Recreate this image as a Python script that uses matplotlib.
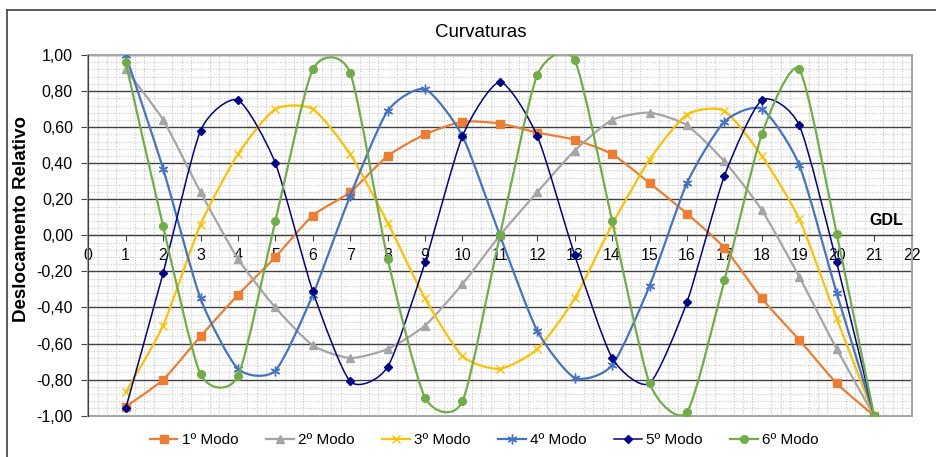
import numpy as np
import matplotlib.pyplot as plt
from matplotlib.path import Path
from matplotlib.patches import PathPatch, Rectangle
from matplotlib.lines import Line2D

plt.rcParams['font.family'] = ['Liberation Sans', 'DejaVu Sans']

gdl = np.arange(1, 22)

modo1 = [-0.95, -0.80, -0.56, -0.33, -0.12, 0.11, 0.24, 0.44, 0.56, 0.63, 0.62,
         0.57, 0.53, 0.45, 0.29, 0.12, -0.07, -0.35, -0.58, -0.82, -1.00]
modo2 = [0.92, 0.64, 0.24, -0.13, -0.40, -0.61, -0.68, -0.63, -0.50, -0.27, 0.00,
         0.24, 0.47, 0.64, 0.68, 0.61, 0.41, 0.14, -0.23, -0.63, -1.00]
modo3 = [-0.87, -0.50, 0.06, 0.45, 0.70, 0.70, 0.45, 0.07, -0.35, -0.67, -0.74,
         -0.63, -0.35, 0.06, 0.42, 0.67, 0.69, 0.44, 0.09, -0.46, -1.00]
modo4 = [1.00, 0.37, -0.35, -0.74, -0.75, -0.33, 0.22, 0.69, 0.81, 0.55, 0.00,
         -0.53, -0.79, -0.72, -0.28, 0.29, 0.63, 0.70, 0.39, -0.32, -1.00]
modo5 = [-0.96, -0.21, 0.58, 0.75, 0.40, -0.31, -0.81, -0.73, -0.15, 0.55, 0.85,
         0.55, -0.11, -0.68, -0.82, -0.37, 0.33, 0.75, 0.61, -0.15, -1.00]
modo6 = [0.96, 0.05, -0.77, -0.78, 0.08, 0.92, 0.90, -0.13, -0.90, -0.92, 0.00,
         0.89, 0.97, 0.08, -0.82, -0.98, -0.25, 0.56, 0.92, 0.01, -1.00]

series = [modo1, modo2, modo3, modo4, modo5, modo6]
labels = ['1º Modo', '2º Modo', '3º Modo', '4º Modo', '5º Modo', '6º Modo']
colors = ['#ED7D31', '#A5A5A5', '#FFC000', '#4472C4', '#000088', '#70AD47']
markers = ['s', '^', 'x', (6, 2, 0), 'D', 'o']
msizes = [5.5, 6, 6, 7, 4.5, 5.5]
lwidths = [1.6, 1.6, 1.6, 1.6, 1.1, 1.6]


def smooth_path(x, y, t=0.11):
    # Bezier segments through every point, like a smoothed spreadsheet line
    pts = np.column_stack([x, y]).astype(float)
    ext = np.vstack([pts[0], pts, pts[-1]])
    verts = [pts[0]]
    codes = [Path.MOVETO]
    for i in range(len(pts) - 1):
        p0, p1, p2, p3 = ext[i], ext[i + 1], ext[i + 2], ext[i + 3]
        verts += [p1 + (p2 - p0) * t, p2 - (p3 - p1) * t, p2]
        codes += [Path.CURVE4] * 3
    return Path(verts, codes)


fig = plt.figure(figsize=(9.37, 4.57), dpi=100)
ax = fig.add_axes([0.0942, 0.0904, 0.8786, 0.7892])

handles = []
for k, (vals, lab, c, m, ms, lw) in enumerate(zip(series, labels, colors, markers, msizes, lwidths)):
    ax.add_patch(PathPatch(smooth_path(gdl, vals), fill=False, ec=c, lw=lw, zorder=3 + k))
    mkw = dict(mfc=c, mec=c, mew=1.0)
    ax.plot(gdl, vals, ls='none', marker=m, ms=ms, zorder=3 + k, **mkw)
    handles.append(Line2D([], [], color=c, lw=lw, marker=m, ms=ms, **mkw))

ax.set_xlim(0, 22)
ax.set_ylim(-1, 1)

# grid: dotted minor lines, solid major horizontals
ax.set_xticks(np.arange(0, 23, 1))
ax.set_xticks(np.arange(0, 22.01, 0.25), minor=True)
yt = np.round(np.arange(-1, 1.001, 0.2), 2) + 0.0
ax.set_yticks(yt)
ax.set_yticks(np.arange(-1, 1.001, 0.04), minor=True)
ax.set_yticklabels([f'{abs(v):.2f}'.replace('.', ',') if abs(v) < 1e-9
                    else f'{v:.2f}'.replace('.', ',') for v in yt])
ax.grid(which='minor', color='#c8c8c8', ls=(0, (1, 1.5)), lw=0.8)
ax.grid(which='major', axis='y', color='#404040', lw=1.0)
ax.set_axisbelow(True)

for s in ['top', 'right']:
    ax.spines[s].set_visible(False)
ax.spines['bottom'].set_position(('data', 0))
ax.spines['bottom'].set_color('#404040')
ax.spines['left'].set_color('#404040')
ax.spines['bottom'].set_zorder(2.5)
ax.add_patch(Rectangle((0, 0), 1, 1, transform=ax.transAxes, fill=False,
                       ec='#a6a6a6', lw=1.5, zorder=1.5, clip_on=False))

ax.tick_params(axis='x', which='major', direction='out', length=4, color='#404040',
               labelsize=11.5, pad=5)
ax.tick_params(axis='y', which='major', direction='out', length=5, color='#404040',
               labelsize=11.5, pad=6)
ax.tick_params(which='minor', length=0)

ax.set_ylabel('Deslocamento Relativo', fontsize=13.5, fontweight='bold')
ax.yaxis.set_label_coords(-0.071, 0.545)
ax.text(21.33, 0.08, 'GDL', fontsize=11.5, fontweight='bold', ha='center', va='center')
fig.text(0.513, 0.928, 'Curvaturas', fontsize=13.5, ha='center', va='center')

fig.legend(handles, labels, loc='center', bbox_to_anchor=(0.517, 0.037), ncol=6,
           frameon=False, fontsize=11, handlelength=1.8, columnspacing=1.8,
           handletextpad=0.3)

# outer chart frame
fig.add_artist(Line2D([7 / 937, 1], [1 - 10 / 457] * 2, color='#404040', lw=1.2))
fig.add_artist(Line2D([7 / 937] * 2, [0, 1 - 10 / 457], color='#404040', lw=1.2))

fig.savefig('out.png', dpi=100)
